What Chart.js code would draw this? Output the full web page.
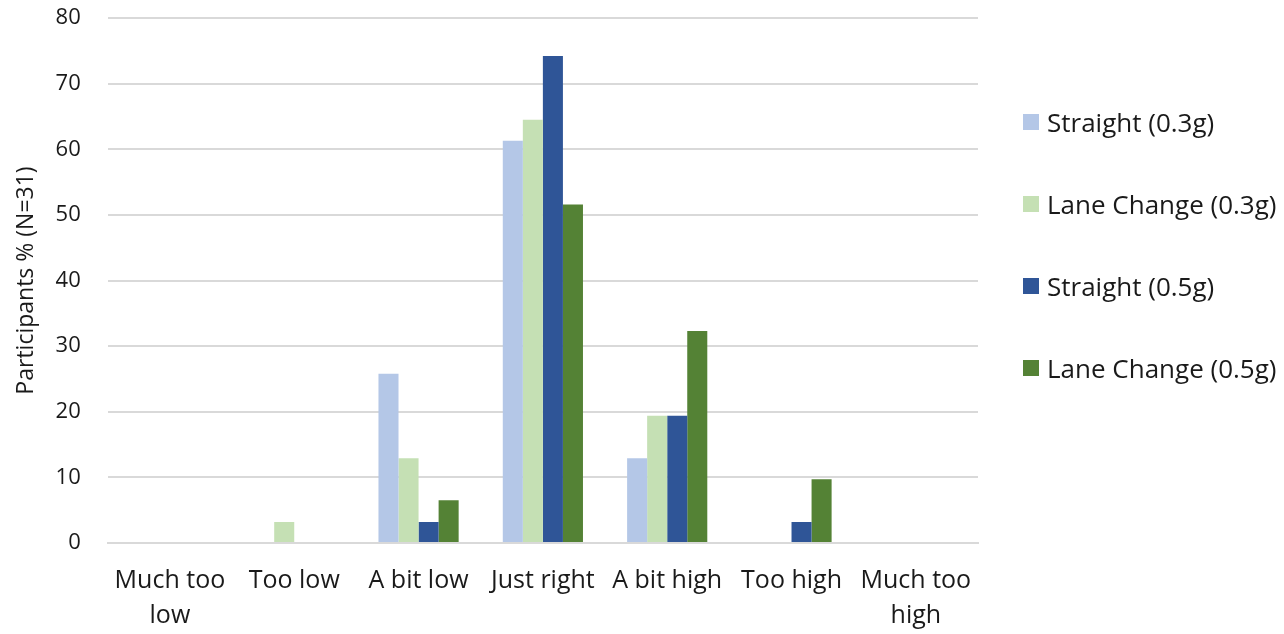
<!DOCTYPE html>
<html lang="en">
<head>
    <meta charset="UTF-8">
    <title>Participants rating</title>
    <script src="https://cdn.jsdelivr.net/npm/chart.js"></script>
    <style>
        html, body { margin: 0; padding: 0; background: #fff; }
        #wrap { position: relative; width: 1284px; height: 634px; }
        #legend { position: absolute; left: 1023px; top: 81px; font-family: 'Open Sans', sans-serif; font-size: 26px; color: #1a1a1a; }
        #legend ul { list-style: none; margin: 0; padding: 0; }
        #legend li { display: flex; align-items: center; height: 82px; white-space: nowrap; }
        #legend span.box { display: inline-block; width: 16px; height: 16px; margin-right: 8px; }
    </style>
</head>
<body>
    <div id="wrap">
        <canvas id="ratingChart" width="1284" height="634"></canvas>
        <div id="legend"></div>
    </div>

    <script>
        const categories = [['Much too', 'low'], 'Too low', 'A bit low', 'Just right', 'A bit high', 'Too high', ['Much too', 'high']];
        const seriesNames = ['Straight (0.3g)', 'Lane Change (0.3g)', 'Straight (0.5g)', 'Lane Change (0.5g)'];
        const straight03 = [0, 0, 25.8, 61.3, 12.9, 0, 0];
        const laneChange03 = [0, 3.2, 12.9, 64.5, 19.4, 0, 0];
        const straight05 = [0, 0, 3.2, 74.2, 19.4, 3.2, 0];
        const laneChange05 = [0, 0, 6.5, 51.6, 32.3, 9.7, 0];
        const yTicks = [0, 10, 20, 30, 40, 50, 60, 70, 80];

        const colors = ['#b4c7e7', '#c5e0b4', '#2f5597', '#548235'];
        const values = [straight03, laneChange03, straight05, laneChange05];

        // legend as html, built from the chart's own legend items
        const htmlLegend = {
            id: 'htmlLegend',
            afterUpdate(chart) {
                const box = document.getElementById('legend');
                const items = chart.options.plugins.legend.labels.generateLabels(chart);
                box.innerHTML = '<ul>' + items.map(it =>
                    `<li><span class="box" style="background:${it.fillStyle}"></span>${it.text}</li>`
                ).join('') + '</ul>';
            }
        };

        const ctx = document.getElementById('ratingChart').getContext('2d');
        new Chart(ctx, {
            type: 'bar',
            data: {
                labels: categories,
                datasets: seriesNames.map((name, i) => ({
                    label: name,
                    data: values[i],
                    backgroundColor: colors[i],
                    borderWidth: 0,
                    barPercentage: 1.0,
                    categoryPercentage: 0.645
                }))
            },
            options: {
                responsive: false,
                animation: false,
                layout: { padding: { left: 13, right: 306, top: 18, bottom: 0 } },
                plugins: {
                    tooltip: { enabled: false },
                    legend: { display: false }
                },
                scales: {
                    x: {
                        grid: { display: false, drawTicks: false },
                        border: { color: '#d9d9d9', width: 2 },
                        afterFit: axis => { axis.height = 91; },
                        ticks: {
                            color: '#1a1a1a',
                            padding: 20,
                            maxRotation: 0,
                            autoSkip: false,
                            font: { family: 'Open Sans', size: 25, lineHeight: 1.4 }
                        }
                    },
                    y: {
                        min: 0,
                        max: 80,
                        afterBuildTicks: axis => { axis.ticks = yTicks.map(v => ({ value: v })); },
                        afterFit: axis => { axis.width += 24; },
                        grid: { color: '#d9d9d9', lineWidth: 2, drawTicks: true, tickLength: 24, tickColor: 'rgba(0,0,0,0)' },
                        border: { display: false },
                        title: {
                            display: true,
                            text: 'Participants % (N=31)',
                            color: '#1a1a1a',
                            padding: { top: 0, bottom: -12 },
                            font: { family: 'Open Sans', size: 23 }
                        },
                        ticks: {
                            color: '#1a1a1a',
                            padding: 3,
                            font: { family: 'Open Sans', size: 22 }
                        }
                    }
                }
            },
            plugins: [htmlLegend]
        });
    </script>
</body>
</html>
